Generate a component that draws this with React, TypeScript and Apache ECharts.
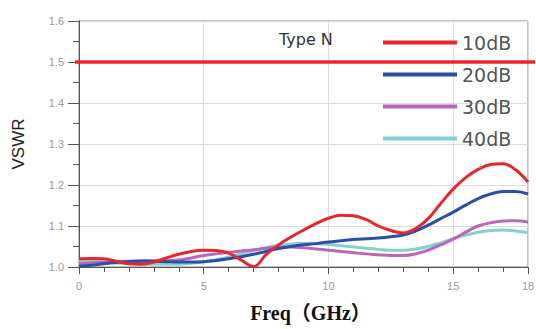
import React, { useEffect, useRef } from "react";
import * as echarts from "echarts";

const freq = [0, 0.5, 1, 1.5, 2, 2.5, 3, 3.5, 4, 4.5, 5, 5.5, 6, 6.5, 7, 7.5, 8, 8.5, 9, 9.5, 10, 10.5, 11, 11.5, 12, 12.5, 13, 13.5, 14, 14.5, 15, 15.5, 16, 16.5, 17, 17.5, 18];

const vswr10 = [1.020, 1.021, 1.020, 1.014, 1.008, 1.007, 1.012, 1.022, 1.031, 1.038, 1.041, 1.040, 1.034, 1.017, 1.001, 1.030, 1.054, 1.073, 1.090, 1.106, 1.119, 1.126, 1.125, 1.116, 1.100, 1.089, 1.083, 1.094, 1.118, 1.155, 1.190, 1.218, 1.238, 1.250, 1.252, 1.237, 1.207];
const vswr20 = [1.002, 1.004, 1.008, 1.011, 1.013, 1.014, 1.014, 1.013, 1.012, 1.012, 1.013, 1.016, 1.020, 1.025, 1.031, 1.038, 1.045, 1.050, 1.054, 1.057, 1.061, 1.064, 1.067, 1.069, 1.071, 1.074, 1.078, 1.088, 1.102, 1.118, 1.134, 1.151, 1.167, 1.178, 1.184, 1.184, 1.178];
const vswr30 = [1.008, 1.010, 1.012, 1.013, 1.014, 1.015, 1.015, 1.015, 1.017, 1.022, 1.028, 1.032, 1.036, 1.039, 1.042, 1.046, 1.049, 1.049, 1.047, 1.044, 1.041, 1.038, 1.035, 1.032, 1.030, 1.028, 1.028, 1.032, 1.041, 1.054, 1.068, 1.085, 1.100, 1.108, 1.112, 1.113, 1.110];
const vswr40 = [1.016, 1.014, 1.012, 1.010, 1.008, 1.007, 1.007, 1.007, 1.007, 1.009, 1.013, 1.018, 1.024, 1.032, 1.040, 1.047, 1.053, 1.056, 1.058, 1.057, 1.055, 1.052, 1.049, 1.046, 1.043, 1.041, 1.041, 1.044, 1.050, 1.059, 1.069, 1.078, 1.085, 1.089, 1.090, 1.088, 1.084];

const seriesNames = ["10dB", "20dB", "30dB", "40dB"];
const seriesColors = ["#e8262c", "#2b4fa6", "#b868b8", "#86d0d0"];
const threshold = 1.5;
const xLabelValues = [0, 5, 10, 15, 18];
const chartTitle = "Type N";

export default function App() {
  const ref = useRef<HTMLDivElement>(null);
  useEffect(() => {
    if (!ref.current) return;
    const chart = echarts.init(ref.current, null, { renderer: "svg" });
    const allData = [vswr10, vswr20, vswr30, vswr40];
    const zs = [5, 4, 3, 2];
    chart.setOption({
      animation: false,
      backgroundColor: "#ffffff",
      title: {
        text: chartTitle,
        left: 279,
        top: 31,
        padding: 0,
        textStyle: { fontFamily: "DejaVu Sans", fontSize: 16, fontWeight: "normal", color: "#333" },
      },
      legend: {
        orient: "vertical",
        left: 383,
        top: 33,
        padding: 0,
        itemWidth: 74,
        itemHeight: 4,
        itemGap: 13,
        icon: "rect",
        data: seriesNames,
        textStyle: { fontFamily: "DejaVu Sans", fontSize: 19, color: "#555" },
      },
      grid: {
        left: 79,
        right: 8,
        top: 21,
        bottom: 62,
        outerBoundsMode: "none",
        show: true,
        borderColor: "#888",
        borderWidth: 1,
        backgroundColor: "transparent",
      },
      xAxis: [
        {
          type: "value",
          min: 0,
          max: 18,
          interval: 1,
          name: "Freq（GHz）",
          nameLocation: "middle",
          nameGap: 36,
          nameTextStyle: {
            fontFamily: "Liberation Serif, Noto Sans CJK SC, serif",
            fontSize: 20,
            fontWeight: "bold",
            color: "#111",
            padding: [0, 0, 0, 14],
          },
          axisLine: { show: true, lineStyle: { color: "#555", width: 1 } },
          axisTick: { show: true, length: 5, lineStyle: { color: "#555" } },
          axisLabel: {
            margin: 13,
            fontFamily: "Liberation Sans, Arial",
            fontSize: 11,
            color: "#999",
            formatter: (v: number) => (xLabelValues.indexOf(v) >= 0 ? String(v) : ""),
          },
          splitLine: { show: false },
        },
        {
          type: "value",
          min: 0,
          max: 18,
          interval: 5,
          position: "bottom",
          axisLine: { show: false },
          axisTick: { show: true, length: 7, lineStyle: { color: "#555" } },
          axisLabel: { show: false },
          splitLine: { show: true, lineStyle: { color: "#ddd", width: 1 } },
        },
      ],
      yAxis: {
        type: "value",
        min: 1.0,
        max: 1.6,
        interval: 0.1,
        name: "VSWR",
        nameLocation: "middle",
        nameGap: 52,
        nameTextStyle: { fontFamily: "Liberation Sans, Arial", fontSize: 17, color: "#222" },
        axisLine: { show: true, lineStyle: { color: "#555", width: 1 } },
        axisTick: { show: true, length: 11, lineStyle: { color: "#555" } },
        minorTick: { show: true, splitNumber: 2, length: 6, lineStyle: { color: "#555" } },
        axisLabel: {
          margin: 15,
          fontFamily: "Liberation Sans, Arial",
          fontSize: 11,
          color: "#999",
          formatter: (v: number) => v.toFixed(1),
        },
        splitLine: { show: true, lineStyle: { color: "#ddd", width: 1 } },
      },
      series: seriesNames.map((name, i) => ({
        name,
        type: "line",
        xAxisIndex: 0,
        smooth: 0.4,
        symbol: "none",
        z: zs[i],
        color: seriesColors[i],
        lineStyle: { color: seriesColors[i], width: 3 },
        data: freq.map((f, j) => [f, allData[i][j]]),
      })),
    });

    const y = chart.convertToPixel({ yAxisIndex: 0 }, threshold) as number;
    const x0 = chart.convertToPixel({ xAxisIndex: 0 }, 0) as number;
    chart.setOption({
      graphic: [
        {
          type: "line",
          z: 100,
          shape: { x1: x0 - 4, y1: y, x2: 535, y2: y },
          style: { stroke: "#e8262c", lineWidth: 3.5 },
        },
      ],
    });

    return () => chart.dispose();
  }, []);
  return <div ref={ref} style={{ position: "absolute", left: 0, top: 0, width: 536, height: 329 }} />;
}
